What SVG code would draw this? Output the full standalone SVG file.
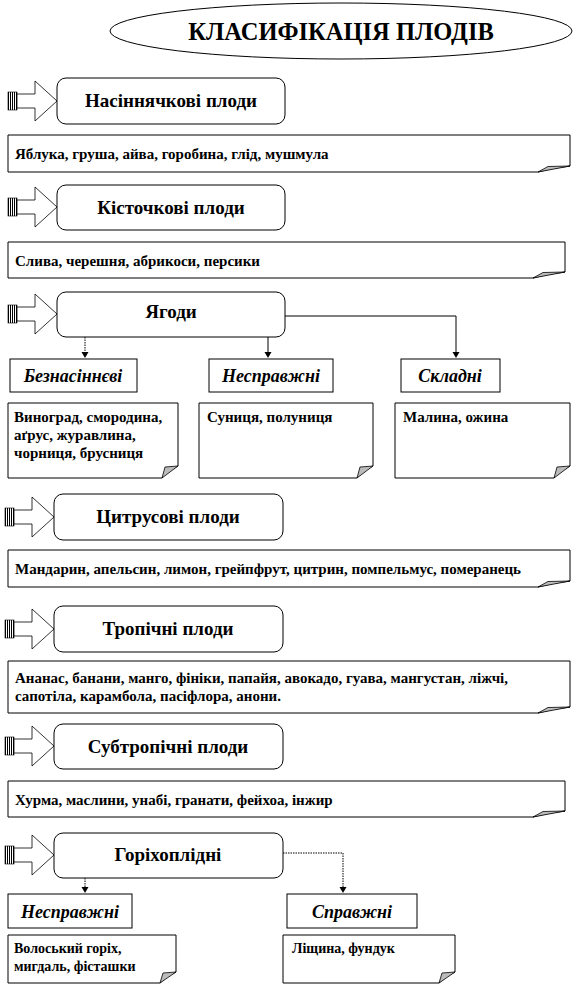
<svg xmlns="http://www.w3.org/2000/svg" width="577" height="986" viewBox="0 0 577 986">
<style>
text{font-family:'Liberation Serif',serif;font-weight:700;fill:#000}
.title{font-size:24.5px;text-anchor:middle}
.hd{font-size:19px;text-anchor:middle}
.sub{font-size:18px;font-style:italic;text-anchor:middle}
.tx{font-size:15px}
.sm{font-size:14px}
.box{fill:#fff;stroke:#000;stroke-width:1}
.note{fill:#fff;stroke:#000;stroke-width:1}
.flap{fill:#bbb;stroke:#000;stroke-width:0.8}
.arr{fill:#fff;stroke:#000;stroke-width:0.8}
.con{fill:none;stroke:#000;stroke-width:1}
.dot{stroke-dasharray:1.5,1}
.ah{fill:#000}
</style>
<defs>
<pattern id="stripes" width="2" height="4" patternUnits="userSpaceOnUse">
<rect width="2" height="4" fill="#fff"/>
<rect width="1" height="4" fill="#000"/>
</pattern>
<g id="blockarrow">
<rect x="8" y="-9" width="9" height="18" fill="url(#stripes)" stroke="#000" stroke-width="0.6"/>
<polygon class="arr" points="17,-7 35,-7 35,-20 57,0 35,20 35,7 17,7"/>
</g>
<path id="ahd" class="ah" d="M-3.5,0 L3.5,0 L0,6 Z"/>
</defs>

<g id="title">
<ellipse cx="341" cy="31" rx="231" ry="28" fill="#fff" stroke="#000" stroke-width="1"/>
<text class="title" x="341" y="40">КЛАСИФІКАЦІЯ ПЛОДІВ</text>
</g>

<g id="arrow1"><use href="#blockarrow" transform="translate(0,101)"/></g>
<g id="n1"><rect class="box" x="57" y="78" width="228" height="46" rx="9"/><text class="hd" x="171" y="107">Насіннячкові плоди</text></g>
<g id="t1">
<path class="note" d="M8,135 H570 V166 Q552,168 538,172 H8 Z"/>
<path class="flap" d="M538,172 L548,166.5 L570,166 Z"/>
<text class="tx" x="15" y="159">Яблука, груша,  айва, горобина, глід, мушмула</text>
</g>

<g id="arrow2"><use href="#blockarrow" transform="translate(0,207)"/></g>
<g id="n2"><rect class="box" x="57" y="185" width="228" height="45" rx="9"/><text class="hd" x="171" y="214">Кісточкові плоди</text></g>
<g id="t2">
<path class="note" d="M8,242 H565 V272 Q547,274 533,278 H8 Z"/>
<path class="flap" d="M533,278 L543,272.5 L565,272 Z"/>
<text class="tx" x="15" y="266">Слива, черешня, абрикоси, персики</text>
</g>

<g id="arrow3"><use href="#blockarrow" transform="translate(0,314)"/></g>
<g id="n3"><rect class="box" x="57" y="292" width="228" height="45" rx="9"/><text class="hd" x="171" y="318">Ягоди</text></g>

<g id="s1"><rect class="box" x="10" y="359" width="127" height="33"/><text class="sub" x="73" y="382">Безнасіннєві</text></g>
<g id="s2"><rect class="box" x="209" y="359" width="124" height="33"/><text class="sub" x="271" y="382">Несправжні</text></g>
<g id="s3"><rect class="box" x="401" y="359" width="99" height="33"/><text class="sub" x="450" y="382">Складні</text></g>

<g id="b1">
<path class="note" d="M8,403 H178 V466 Q168,470 162,478 H8 Z"/>
<path class="flap" d="M162,478 L165,467 L178,466 Z"/>
<text class="tx" x="14" y="422">Виноград, смородина,</text>
<text class="tx" x="14" y="440">аґрус, журавлина,</text>
<text class="tx" x="14" y="458">чорниця, брусниця</text>
</g>
<g id="b2">
<path class="note" d="M199,403 H373 V466 Q363,470 357,478 H199 Z"/>
<path class="flap" d="M357,478 L360,467 L373,466 Z"/>
<text class="tx" x="207" y="422">Суниця, полуниця</text>
</g>
<g id="b3">
<path class="note" d="M395,403 H570 V466 Q560,470 554,478 H395 Z"/>
<path class="flap" d="M554,478 L557,467 L570,466 Z"/>
<text class="tx" x="403" y="422">Малина, ожина</text>
</g>

<g id="arrow4"><use href="#blockarrow" transform="translate(-3,517)"/></g>
<g id="n4"><rect class="box" x="54" y="494" width="229" height="46" rx="9"/><text class="hd" x="168" y="523">Цитрусові плоди</text></g>
<g id="t4">
<path class="note" d="M8,550 H570 V581 Q552,583 538,587 H8 Z"/>
<path class="flap" d="M538,587 L548,581.5 L570,581 Z"/>
<text class="tx" x="15" y="574">Мандарин, апельсин, лимон, грейпфрут, цитрин, помпельмус, померанець</text>
</g>

<g id="arrow5"><use href="#blockarrow" transform="translate(-3,629)"/></g>
<g id="n5"><rect class="box" x="54" y="606" width="229" height="46" rx="9"/><text class="hd" x="168" y="635">Тропічні плоди</text></g>
<g id="t5">
<path class="note" d="M8,661 H570 V707 Q552,709 538,713 H8 Z"/>
<path class="flap" d="M538,713 L548,707.5 L570,707 Z"/>
<text class="tx" x="15" y="683">Ананас, банани, манго, фініки,  папайя, авокадо, гуава, мангустан, ліжчі,</text>
<text class="tx" x="15" y="701">сапотіла, карамбола, пасіфлора,  анони.</text>
</g>

<g id="arrow6"><use href="#blockarrow" transform="translate(-3,746)"/></g>
<g id="n6"><rect class="box" x="54" y="724" width="229" height="45" rx="9"/><text class="hd" x="168" y="753">Субтропічні плоди</text></g>
<g id="t6">
<path class="note" d="M8,781 H565 V811 Q547,813 533,817 H8 Z"/>
<path class="flap" d="M533,817 L543,811.5 L565,811 Z"/>
<text class="tx" x="15" y="805">Хурма, маслини, унабі, гранати, фейхоа, інжир</text>
</g>

<g id="arrow7"><use href="#blockarrow" transform="translate(-3,855)"/></g>
<g id="n7"><rect class="box" x="54" y="833" width="229" height="45" rx="9"/><text class="hd" x="168" y="861">Горіхоплідні</text></g>

<g id="s4"><rect class="box" x="8" y="894" width="124" height="34"/><text class="sub" x="70" y="918">Несправжні</text></g>
<g id="s5"><rect class="box" x="287" y="894" width="130" height="34"/><text class="sub" x="352" y="918">Справжні</text></g>

<g id="b4">
<path class="note" d="M8,935 H176 V972 Q166,976 160,983 H8 Z"/>
<path class="flap" d="M160,983 L163,973 L176,972 Z"/>
<text class="tx sm" x="14" y="953">Волоський горіх,</text>
<text class="tx sm" x="14" y="971">мигдаль, фісташки</text>
</g>
<g id="b5">
<path class="note" d="M283,935 H455 V972 Q445,976 439,983 H283 Z"/>
<path class="flap" d="M439,983 L442,973 L455,972 Z"/>
<text class="tx sm" x="292" y="953">Ліщина, фундук</text>
</g>

<g id="connectors">
<path class="con dot" d="M85,337 V352"/>
<use href="#ahd" transform="translate(85,352)"/>
<path class="con" d="M268,337 V352"/>
<use href="#ahd" transform="translate(268,352)"/>
<path class="con" d="M285,316 H456 V352"/>
<use href="#ahd" transform="translate(456,352)"/>
<path class="con dot" d="M85,878 V887"/>
<use href="#ahd" transform="translate(85,887)"/>
<path class="con dot" d="M283,853 H343 V887"/>
<use href="#ahd" transform="translate(343,887)"/>
</g>
</svg>
